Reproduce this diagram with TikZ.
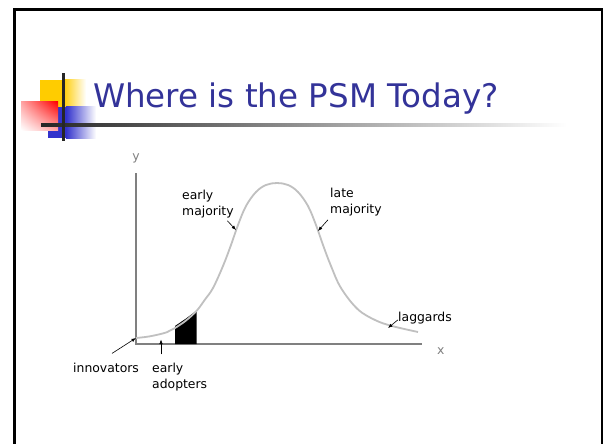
\documentclass[tikz,border=0pt]{standalone}
\usepackage{fontspec}
\setmainfont{DejaVu Sans}
\usetikzlibrary{positioning, arrows.meta, shadings}
\definecolor{slideblue}{HTML}{333399}
\definecolor{logoyellow}{HTML}{FFCC00}
\definecolor{logored}{HTML}{FF0000}
\definecolor{logoblue}{HTML}{3333CC}
\definecolor{axisgray}{HTML}{808080}
\definecolor{curvegray}{HTML}{C0C0C0}

\begin{document}
\begin{tikzpicture}[x=1pt, y=-1pt,
    lbl/.style={inner sep=0pt, anchor=base west, align=left, font=\fontsize{12.4}{16}\selectfont},
    axlbl/.style={inner sep=0pt, text=axisgray, font=\fontsize{12.4}{16}\selectfont},
    axis/.style={draw=axisgray, line width=1.6pt},
    curve/.style={draw=curvegray, line width=1.8pt},
    arr/.style={-{Latex[length=4.5pt,width=3.5pt]}, line width=0.6pt}]
    \useasboundingbox (0,0) rectangle (603,444);
    \fill[white] (0,0) rectangle (603,444);
    \draw[line width=3pt] (14.5,444) -- (14.5,10) -- (602,10) -- (602,444);

    % logo
    \fill[logoyellow] (40,80) rectangle (63,107);
    \shade[left color=logoyellow, right color=white] (63,80) rectangle (86,107);
    \fill[logoblue] (48,107) rectangle (66,138);
    \shade[left color=logoblue, right color=white] (66,107) rectangle (96,138);
    \shade[upper right=logored, upper left=logored!35!white, lower right=logored!35!white, lower left=white] (21,102) rectangle (58,130);
    \shade[left color=black!85, right color=white] (41,123) rectangle (567,126);
    \fill[black!85] (62,73) rectangle (65,141);

    \node[anchor=base west, inner sep=0pt, text=slideblue, font=\fontsize{32.5}{38}\selectfont] (title) at (93,107) {Where is the PSM Today?};

    % axes
    \coordinate (origin) at (136,344);
    \coordinate (xend) at (422,344);
    \coordinate (yend) at (136,173);
    \draw[axis] (yend) -- (origin) -- (xend);
    \node[axlbl, below right=4pt and 15pt of xend] (xlab) {x};
    \node[axlbl, above=10pt of yend] (ylab) {y};

    % curve
    \fill (175,344) -- (175,326) -- (186,318.5) -- (196.7,310.5) -- (196.7,344) -- cycle;
    \draw[curve] plot[smooth, tension=0.6] coordinates {(136,338) (150,336.3) (166.7,332.3) (175,328) (186,320.5) (196.7,310.7) (205,299.5) (213,288) (223,266) (231,245) (238,225) (246,206) (256,192) (266,185) (277,183) (288,185) (298,192) (308,206) (316,225) (323,245) (331,266) (341,288) (357.5,309) (375,320) (392,326) (418,332)};

    % labels
    \node[lbl] (inn) at (73,372) {innovators};
    \node[lbl] (ea) at (152,388) {early\\adopters};
    \node[lbl] (em) at (182,215) {early\\majority};
    \node[lbl] (lm) at (330,213) {late\\majority};
    \node[lbl] (lag) at (398,321) {laggards};

    \coordinate (tipInn) at (136,338);
    \coordinate (tipEa) at (161,339.5);
    \coordinate (tipEm) at (236,230);
    \coordinate (tipLm) at (318,231);
    \coordinate (tipLag) at (388,328);

    \draw[arr] ([xshift=6pt,yshift=9pt]inn.north) -- (tipInn);
    \draw[arr] ([xshift=9pt,yshift=8pt]ea.north west) -- (tipEa);
    \draw[arr] ([xshift=-6.5pt,yshift=-3pt]em.south east) -- (tipEm);
    \draw[arr] ([xshift=-2pt,yshift=-4pt]lm.south west) -- (tipLm);
    \draw[arr] ([yshift=4pt]lag.south west) -- (tipLag);
\end{tikzpicture}
\end{document}
